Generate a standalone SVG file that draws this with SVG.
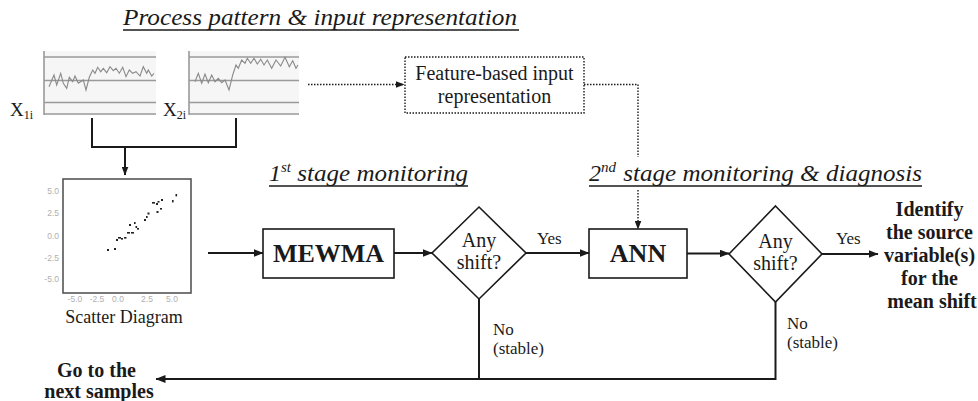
<svg xmlns="http://www.w3.org/2000/svg" width="978" height="401" viewBox="0 0 978 401">
<defs>
<style>
.t{font-family:"Liberation Serif","Times New Roman",serif;fill:#1a1a1a}
.it{font-style:italic;font-size:24px}
.b{font-weight:bold}
.box{fill:#fff;stroke:#1a1a1a;stroke-width:1.6}
.ln{fill:none;stroke:#1a1a1a;stroke-width:2}
.dot{fill:none;stroke:#1a1a1a;stroke-width:1.4;stroke-dasharray:1.5 1.5}
.ul{stroke:#1a1a1a;stroke-width:1.6}
.gl{stroke:#9a9a9a;stroke-width:1.6}
.zz{fill:none;stroke:#8a8a8a;stroke-width:1.1}
.tick{font-family:"Liberation Sans",Arial,sans-serif;font-size:8.5px;fill:#b0b0b0}
</style>
<marker id="ah" markerWidth="10" markerHeight="8" refX="9.5" refY="4" orient="auto" markerUnits="userSpaceOnUse"><path d="M0,0 L10,4 L0,8 z" fill="#1a1a1a"/></marker>
<marker id="ahs" markerWidth="9" markerHeight="7" refX="8.5" refY="3.5" orient="auto" markerUnits="userSpaceOnUse"><path d="M0,0 L9,3.5 L0,7 z" fill="#1a1a1a"/></marker>
</defs>
<rect width="978" height="401" fill="#fff"/>

<!-- Section titles -->
<g id="title-process">
<text class="t it" x="123" y="25" textLength="394" lengthAdjust="spacingAndGlyphs">Process pattern &amp; input representation</text>
<line class="ul" x1="123" y1="30" x2="519" y2="30"/>
</g>
<g id="title-stage1">
<text class="t it" x="269" y="181">1<tspan font-size="15" dy="-9">st</tspan><tspan x="291" dy="9" textLength="177" lengthAdjust="spacingAndGlyphs"> stage monitoring</tspan></text>
<line class="ul" x1="269" y1="186" x2="468" y2="186"/>
</g>
<g id="title-stage2">
<text class="t it" x="589" y="181">2<tspan font-size="15" dy="-9">nd</tspan><tspan x="617" dy="9" textLength="305" lengthAdjust="spacingAndGlyphs"> stage monitoring &amp; diagnosis</tspan></text>
<line class="ul" x1="589" y1="186" x2="922" y2="186"/>
</g>

<!-- Chart X1i -->
<g id="chart-x1">
<rect x="44" y="51" width="112" height="64" fill="#f6f6f6"/>
<line class="gl" x1="44" y1="57" x2="156" y2="57"/>
<line class="gl" x1="44" y1="80.5" x2="156" y2="80.5"/>
<line class="gl" x1="44" y1="102.5" x2="156" y2="102.5"/>
<line class="gl" x1="44" y1="114" x2="156" y2="114"/>
<line class="gl" x1="44" y1="51" x2="44" y2="115"/>
<polyline class="zz" points="49,86.7 54,75 56.7,85 60.7,73.3 63.3,83.3 66.7,88.3 69.3,77.3 72.7,81.7 75,76 78.3,83.3 83.3,80 86,90 89.3,77.3 92.7,70 95,73.3 97.7,67.3 100.7,71.7 103.3,68.3 106.7,72.7 110,66.7 113.3,70.7 116,68.3 119.3,73.3 122.7,67.3 126,76.7 129.3,70 132.7,73.3 136,71.7 140,76 143.3,66.7 146.7,73.3 148.3,70 151.7,76 154,73.3"/>
<text class="t" x="10" y="116" font-size="19">X<tspan font-size="12" dy="3">1i</tspan></text>
</g>

<!-- Chart X2i -->
<g id="chart-x2">
<rect x="189" y="51" width="110" height="64" fill="#f6f6f6"/>
<line class="gl" x1="189" y1="57" x2="299" y2="57"/>
<line class="gl" x1="189" y1="80.5" x2="299" y2="80.5"/>
<line class="gl" x1="189" y1="102.5" x2="299" y2="102.5"/>
<line class="gl" x1="189" y1="114" x2="299" y2="114"/>
<line class="gl" x1="189" y1="51" x2="189" y2="115"/>
<polyline class="zz" points="195,81.7 198.3,73.3 201.7,83.3 205,74 208.3,82.7 211.7,75 215,81.7 218.3,78.3 221.7,82.7 225,80 229,90 232.7,75 236,65 238.3,68.3 241.7,60 245,63.3 247.3,58.3 250.7,63.3 254,58.3 257.3,64 260.7,59.3 264,65 267.3,60 271.7,68.3 276,60 280.7,66 285,57.3 289.3,66.7 292.7,60.7 296,68.3 298,65"/>
<text class="t" x="163" y="116" font-size="19">X<tspan font-size="12" dy="3">2i</tspan></text>
</g>

<!-- Scatter diagram -->
<g id="scatter">
<rect x="63" y="179" width="128" height="114" fill="#fff" stroke="#555" stroke-width="1.6"/>
<text class="tick" x="59" y="194" text-anchor="end">5.0</text>
<text class="tick" x="59" y="216" text-anchor="end">2.5</text>
<text class="tick" x="59" y="239" text-anchor="end">0.0</text>
<text class="tick" x="59" y="261" text-anchor="end">-2.5</text>
<text class="tick" x="59" y="282" text-anchor="end">-5.0</text>
<text class="tick" x="75" y="302" text-anchor="middle">-5.0</text>
<text class="tick" x="97" y="302" text-anchor="middle">-2.5</text>
<text class="tick" x="118" y="302" text-anchor="middle">0.0</text>
<text class="tick" x="147" y="302" text-anchor="middle">2.5</text>
<text class="tick" x="172" y="302" text-anchor="middle">5.0</text>
<g fill="#222">
<rect x="107" y="249" width="2" height="2"/>
<rect x="114" y="248" width="2" height="2"/>
<rect x="116" y="239" width="2" height="2"/>
<rect x="118" y="237" width="3" height="1.6"/>
<rect x="121" y="238" width="2" height="1.6"/>
<rect x="124" y="237" width="2.5" height="1.6"/>
<rect x="127" y="232" width="3" height="1.6"/>
<rect x="131" y="232" width="3" height="1.6"/>
<rect x="129" y="224" width="2" height="2"/>
<rect x="134" y="222" width="1.6" height="2"/>
<rect x="135.5" y="226" width="1.6" height="2"/>
<rect x="137" y="228" width="2" height="1.6"/>
<rect x="144" y="219" width="2" height="2"/>
<rect x="146" y="216" width="1.6" height="2"/>
<rect x="147.5" y="212.5" width="2" height="2"/>
<rect x="152" y="202" width="3" height="1.6"/>
<rect x="156" y="203" width="2" height="2"/>
<rect x="157.5" y="201" width="2" height="1.6"/>
<rect x="161" y="199" width="2" height="2"/>
<rect x="156.5" y="211" width="2" height="2"/>
<rect x="160" y="208" width="2" height="1.6"/>
<rect x="172" y="200" width="1.6" height="2.4"/>
<rect x="175.5" y="194" width="1.6" height="2.4"/>
</g>
<text class="t" x="124" y="323" font-size="18" text-anchor="middle">Scatter Diagram</text>
</g>

<!-- Feature-based box -->
<g id="feature-box">
<rect x="405" y="57" width="179" height="56" fill="#fff" stroke="#1a1a1a" stroke-width="1.4" stroke-dasharray="1.5 1.5"/>
<text class="t" x="494.5" y="80" font-size="20" text-anchor="middle">Feature-based input</text>
<text class="t" x="494.5" y="103" font-size="20" text-anchor="middle">representation</text>
</g>

<!-- MEWMA -->
<g id="mewma">
<rect class="box" x="263" y="229" width="131" height="49"/>
<text class="t b" x="328.5" y="262" font-size="26" text-anchor="middle">MEWMA</text>
</g>

<!-- Decision 1 -->
<g id="decision1">
<polygon class="box" points="479,207 526,253 479,299 432,253"/>
<text class="t" x="479" y="247" font-size="20" text-anchor="middle">Any</text>
<text class="t" x="479" y="269" font-size="20" text-anchor="middle">shift?</text>
</g>

<!-- ANN -->
<g id="ann">
<rect class="box" x="589" y="229" width="98" height="49"/>
<text class="t b" x="638" y="262" font-size="26" text-anchor="middle">ANN</text>
</g>

<!-- Decision 2 -->
<g id="decision2">
<polygon class="box" points="775.5,206 822,254 775.5,302 729,254"/>
<text class="t" x="775.5" y="248" font-size="20" text-anchor="middle">Any</text>
<text class="t" x="775.5" y="270" font-size="20" text-anchor="middle">shift?</text>
</g>

<!-- Outcome texts -->
<g id="identify">
<text class="t b" font-size="20" text-anchor="middle">
<tspan x="932" y="216">Identify</tspan>
<tspan x="932" y="239">the source</tspan>
<tspan x="932" y="262">variable(s)</tspan>
<tspan x="932" y="285">for the</tspan>
<tspan x="932" y="308">mean shift</tspan>
</text>
</g>
<g id="next-samples">
<text class="t b" font-size="20" text-anchor="middle">
<tspan x="99" y="377">Go to the</tspan>
<tspan x="99" y="398">next samples</tspan>
</text>
</g>

<!-- Connectors -->
<g id="connectors">
<path class="ln" d="M92,118 V147 H236 V118"/>
<path class="ln" d="M125,147 V175" marker-end="url(#ahs)"/>
<path class="ln" d="M208,253 H263" marker-end="url(#ah)"/>
<path class="ln" d="M394,253 H432" marker-end="url(#ah)"/>
<path class="ln" d="M526,253 H589" marker-end="url(#ah)"/>
<path class="ln" d="M687,253.5 H729" marker-end="url(#ah)"/>
<path class="ln" d="M822,254 H878" marker-end="url(#ah)"/>
<path class="ln" d="M479,299 V379"/>
<path class="ln" d="M775.5,302 V379 H156" marker-end="url(#ah)"/>
<path class="dot" d="M308,84.5 H404" marker-end="url(#ahs)"/>
<path class="dot" d="M584,84.5 H638 V157"/>
<path class="dot" d="M638,190 V229" marker-end="url(#ahs)"/>
<text class="t" x="537" y="244" font-size="17">Yes</text>
<text class="t" x="836" y="244" font-size="17">Yes</text>
<text class="t" x="493" y="335" font-size="17">No</text>
<text class="t" x="493" y="354" font-size="17">(stable)</text>
<text class="t" x="787" y="329" font-size="17">No</text>
<text class="t" x="787" y="348" font-size="17">(stable)</text>
</g>
</svg>
